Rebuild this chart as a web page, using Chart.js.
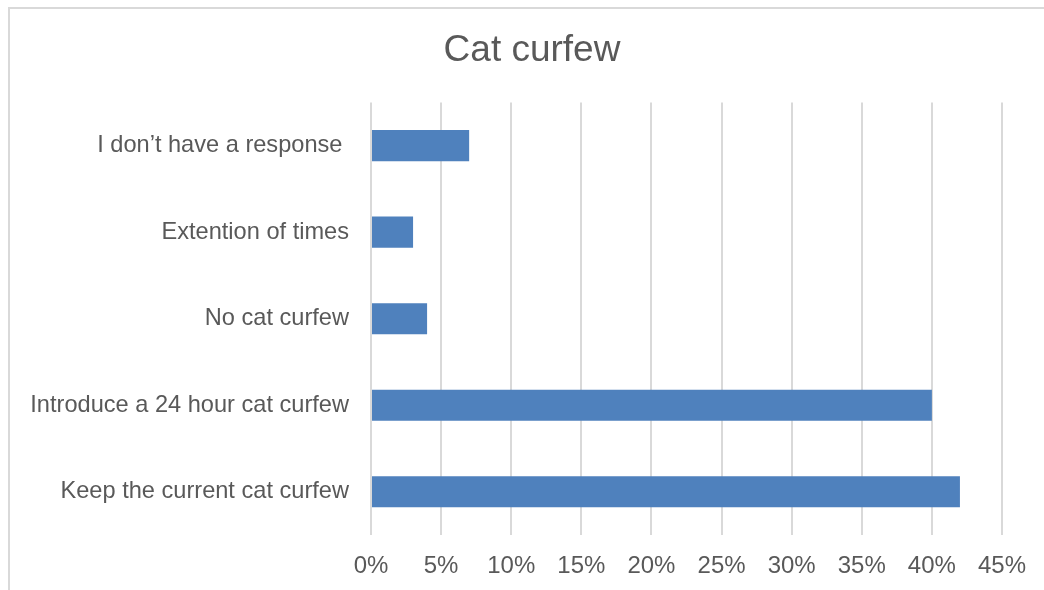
<!DOCTYPE html>
<html>
<head>
<meta charset="utf-8">
<script src="https://cdn.jsdelivr.net/npm/chart.js@4/dist/chart.umd.min.js"></script>
<style>
  html, body { margin: 0; padding: 0; background: #fff; }
  #wrap { position: relative; width: 1044px; height: 590px; overflow: hidden; }
  #frame { position: absolute; left: 8px; top: 7px; width: 1100px; height: 700px; border: 2px solid #d9d9d9; box-sizing: border-box; }
  canvas { position: absolute; left: 0; top: 0; }
</style>
</head>
<body>
<div id="wrap">
  <div id="frame"></div>
  <canvas id="c" width="1044" height="590"></canvas>
</div>
<script>
const titleText = "Cat curfew";
const categories = [
  "I don\u2019t have a response ",
  "Extention of times",
  "No cat curfew",
  "Introduce a 24 hour cat curfew",
  "Keep the current cat curfew"
];
const values = [7, 3, 4, 40, 42];
const tickMax = 45;
const tickStep = 5;

const FONT = "'Liberation Sans', Arial, sans-serif";
const GREY = "#595959";

new Chart(document.getElementById('c'), {
  type: 'bar',
  data: {
    labels: categories,
    datasets: [{
      data: values,
      backgroundColor: '#4f81bd',
      borderWidth: 0,
      barPercentage: 0.6,
      categoryPercentage: 0.6
    }]
  },
  options: {
    indexAxis: 'y',
    responsive: false,
    animation: false,
    devicePixelRatio: 1,
    layout: { padding: { left: 20, right: 0, top: 0, bottom: 0 } },
    plugins: {
      legend: { display: false },
      tooltip: { enabled: false },
      title: {
        display: true,
        text: titleText,
        color: GREY,
        font: { family: FONT, size: 37, weight: 'normal' },
        padding: { top: 29, bottom: 29 }
      }
    },
    scales: {
      x: {
        min: 0,
        max: tickMax,
        grid: { color: '#d9d9d9', lineWidth: 2, drawTicks: false },
        border: { display: false },
        ticks: {
          stepSize: tickStep,
          padding: 17,
          color: GREY,
          font: { family: FONT, size: 24 },
          callback: v => v + '%'
        },
        afterFit: s => { s.height = 55; }
      },
      y: {
        grid: { display: false, drawTicks: false },
        border: { display: false },
        ticks: {
          padding: 22,
          color: GREY,
          font: { family: FONT, size: 23.6 }
        },
        afterFit: s => { s.width = 351; }
      },
      yRight: {
        position: 'right',
        grid: { display: false, drawTicks: false },
        border: { display: false },
        ticks: { display: false },
        afterFit: s => { s.width = 42; }
      }
    }
  }
});
</script>
</body>
</html>
